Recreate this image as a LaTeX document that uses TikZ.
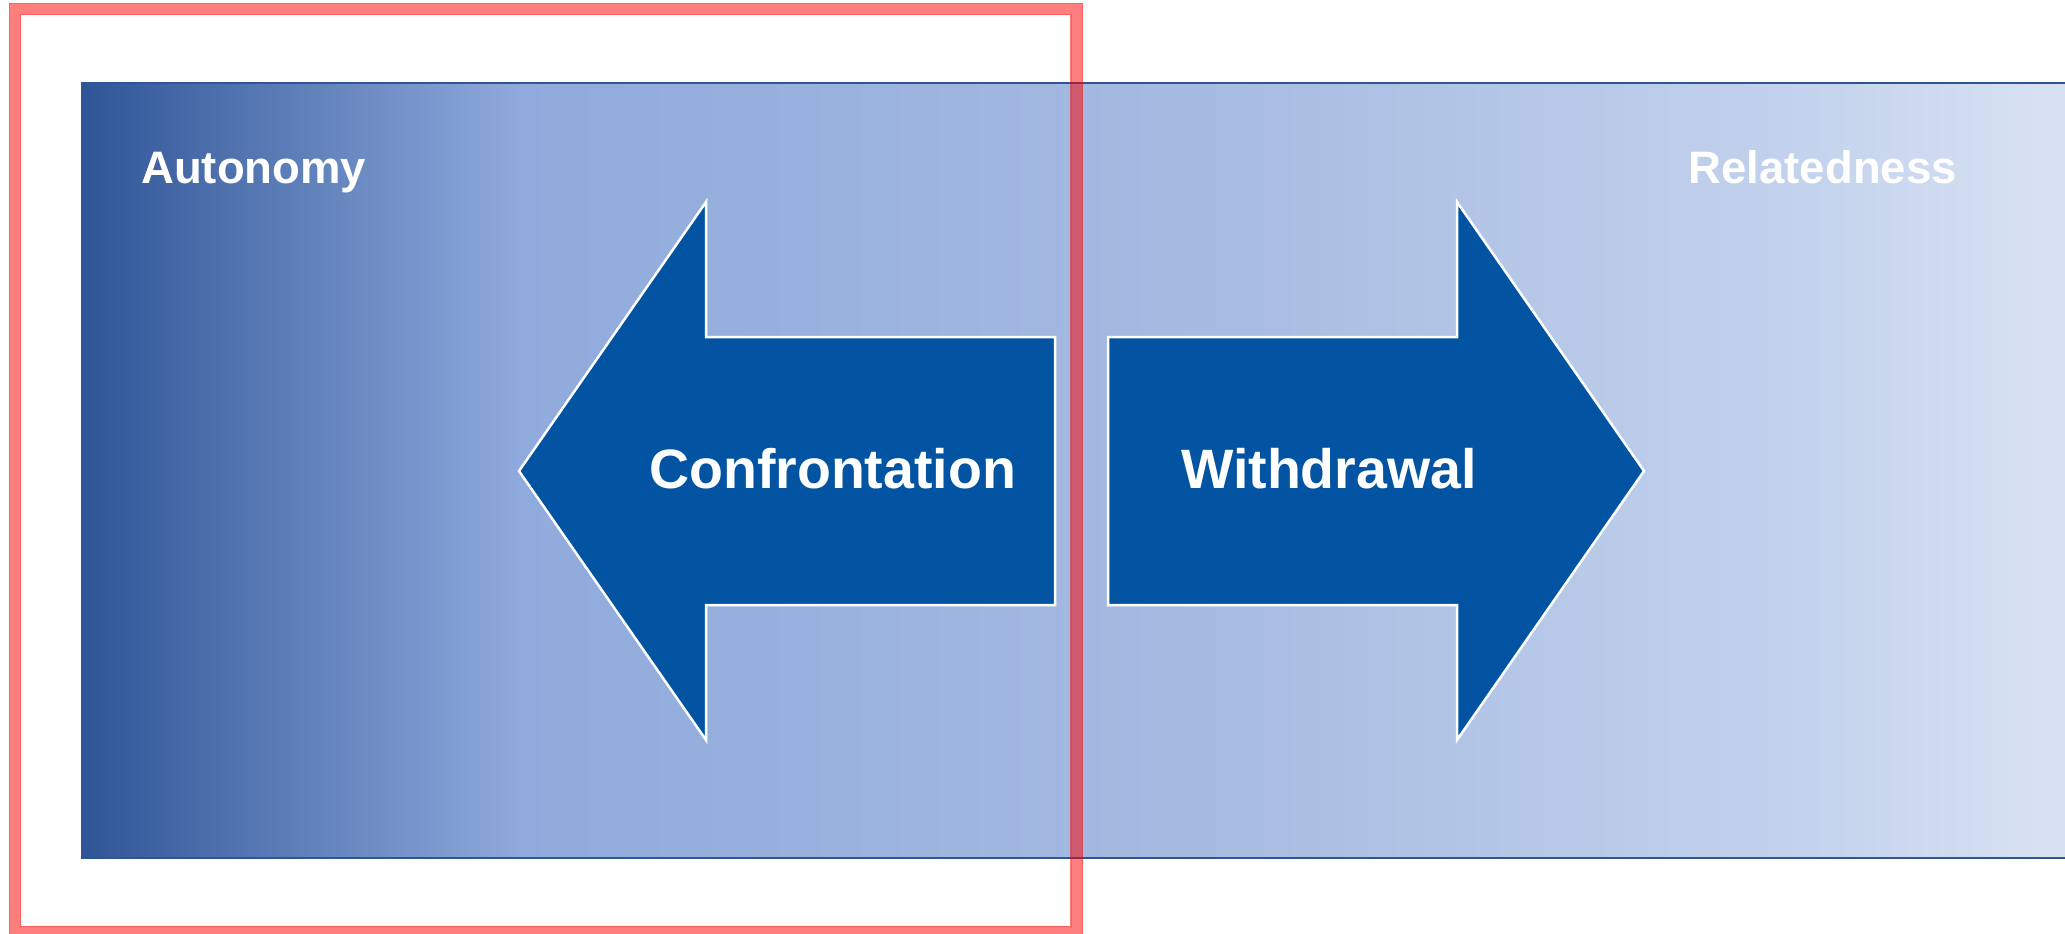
\documentclass[tikz,border=0pt]{standalone}
\usepackage{fontspec}
\setmainfont{Liberation Sans}
\definecolor{bandDark}{HTML}{2F5597}
\definecolor{bandMid}{HTML}{8FAADC}
\definecolor{bandB}{HTML}{A6BBE1}
\definecolor{bandC}{HTML}{C3D2ED}
\definecolor{bandLight}{HTML}{DAE3F3}
\definecolor{arrowBlue}{HTML}{0254A3}
\begin{document}
\begin{tikzpicture}[x=1pt,y=-1pt,
  bigarrow/.style={fill=arrowBlue, draw=white, line width=2.5pt, line join=miter},
  arrowlabel/.style={text=white, font=\fontsize{55.5}{62}\selectfont\bfseries, inner sep=0pt, anchor=base west},
  polelabel/.style={text=white, font=\fontsize{45.5}{52}\selectfont\bfseries, inner sep=0pt},
  bandpart/.style={draw=none}]
\useasboundingbox (0,0) rectangle (2065,934);

% graded background band from autonomy (dark) to relatedness (light)
\coordinate (bandNW) at (82,83);
\coordinate (bandSE) at (2080,858);
\shade[bandpart, left color=bandDark, right color=bandMid] (82,83) rectangle (521,858);
\shade[bandpart, left color=bandMid, right color=bandB] (520,83) rectangle (1201,858);
\shade[bandpart, left color=bandB, right color=bandC] (1200,83) rectangle (1801,858);
\shade[bandpart, left color=bandC, right color=bandLight] (1800,83) rectangle (2080,858);
\draw[bandDark, line width=2.5pt] (bandNW) rectangle (bandSE);

% pole labels
\node[polelabel, anchor=base west] (autonomy) at (141,183) {Autonomy};
\node[polelabel, anchor=base east] (relatedness) at (1957,183) {Relatedness};

% left-pointing arrow
\draw[bigarrow] (1055,337) -- (706,337) -- (706,202) -- (519,471)
  -- (706,740) -- (706,605) -- (1055,605) -- cycle;
% right-pointing arrow
\draw[bigarrow] (1108,337) -- (1457,337) -- (1457,202) -- (1644,471)
  -- (1457,740) -- (1457,605) -- (1108,605) -- cycle;

\node[arrowlabel] (confrontation) at (649,488) {Confrontation};
\node[arrowlabel] (withdrawal) at (1181,488) {Withdrawal};

% translucent highlight frame
\draw[red, opacity=0.5, line width=12.5pt] (15,9) rectangle (1076.5,932);
\draw[red, opacity=0.25, line width=1pt] (9.5,3.5) rectangle (1082,937.5);
\draw[red, opacity=0.25, line width=1pt] (20.5,14.5) rectangle (1071,926.5);
\end{tikzpicture}
\end{document}
